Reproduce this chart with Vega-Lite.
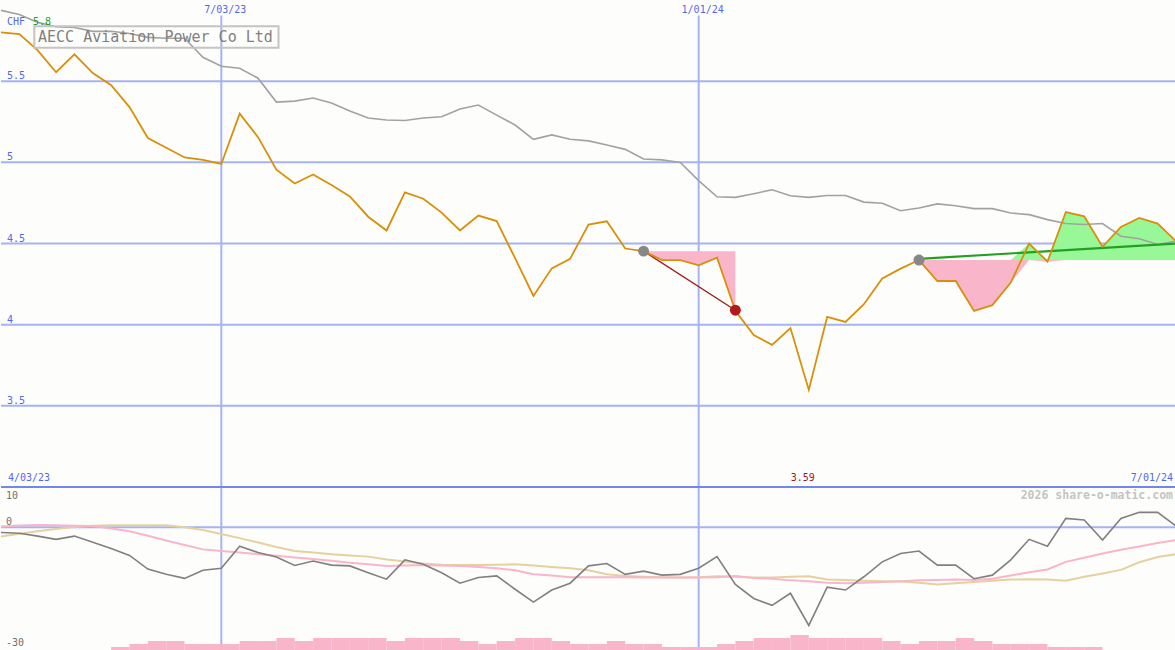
{
  "$schema": "https://vega.github.io/schema/vega-lite/v6.json",
  "padding": 0,
  "spacing": 0,
  "bounds": "flush",
  "background": "#fdfefb",
  "config": {
    "view": {"stroke": null},
    "text": {"font": "DejaVu Sans Mono"}
  },
  "datasets": {
    "main": [
      {"d": "2023-04-10", "p": 5.80, "ma": 5.936, "o": -1.3, "m1": 0.17, "m2": -2.3},
      {"d": "2023-04-17", "p": 5.79, "ma": 5.911, "o": -1.5, "m1": 0.45, "m2": -1.6},
      {"d": "2023-04-24", "p": 5.69, "ma": 5.862, "o": -2.2, "m1": 0.55, "m2": -1.0},
      {"d": "2023-05-01", "p": 5.555, "ma": 5.835, "o": -3.0, "m1": 0.47, "m2": -0.45},
      {"d": "2023-05-08", "p": 5.665, "ma": 5.831, "o": -2.2, "m1": 0.4, "m2": 0.07},
      {"d": "2023-05-15", "p": 5.55, "ma": 5.807, "o": -3.7, "m1": 0.32, "m2": 0.37},
      {"d": "2023-05-22", "p": 5.475, "ma": 5.807, "o": -5.3, "m1": -0.3, "m2": 0.5},
      {"d": "2023-05-29", "p": 5.34, "ma": 5.794, "o": -7.0, "m1": -1.0, "m2": 0.5},
      {"d": "2023-06-05", "p": 5.15, "ma": 5.770, "o": -10.4, "m1": -2.1, "m2": 0.5},
      {"d": "2023-06-12", "p": 5.09, "ma": 5.764, "o": -11.7, "m1": -3.3, "m2": 0.5},
      {"d": "2023-06-19", "p": 5.03, "ma": 5.764, "o": -12.7, "m1": -4.4, "m2": 0.02},
      {"d": "2023-06-26", "p": 5.015, "ma": 5.647, "o": -10.7, "m1": -5.5, "m2": -0.7},
      {"d": "2023-07-03", "p": 4.99, "ma": 5.592, "o": -10.2, "m1": -5.9, "m2": -1.7},
      {"d": "2023-07-10", "p": 5.30, "ma": 5.580, "o": -4.7, "m1": -6.3, "m2": -2.7},
      {"d": "2023-07-17", "p": 5.155, "ma": 5.518, "o": -6.3, "m1": -6.7, "m2": -3.8},
      {"d": "2023-07-24", "p": 4.955, "ma": 5.371, "o": -7.4, "m1": -7.1, "m2": -4.9},
      {"d": "2023-07-31", "p": 4.87, "ma": 5.377, "o": -9.5, "m1": -7.5, "m2": -5.9},
      {"d": "2023-08-07", "p": 4.925, "ma": 5.396, "o": -8.4, "m1": -7.9, "m2": -6.3},
      {"d": "2023-08-14", "p": 4.86, "ma": 5.365, "o": -9.4, "m1": -8.3, "m2": -6.7},
      {"d": "2023-08-21", "p": 4.79, "ma": 5.316, "o": -9.6, "m1": -8.8, "m2": -7.0},
      {"d": "2023-08-28", "p": 4.665, "ma": 5.273, "o": -11.3, "m1": -9.2, "m2": -7.3},
      {"d": "2023-09-04", "p": 4.58, "ma": 5.261, "o": -12.9, "m1": -9.6, "m2": -8.0},
      {"d": "2023-09-11", "p": 4.815, "ma": 5.258, "o": -8.1, "m1": -9.5, "m2": -8.5},
      {"d": "2023-09-18", "p": 4.776, "ma": 5.273, "o": -9.2, "m1": -9.4, "m2": -9.0},
      {"d": "2023-09-25", "p": 4.69, "ma": 5.281, "o": -11.3, "m1": -9.5, "m2": -9.3},
      {"d": "2023-10-02", "p": 4.58, "ma": 5.328, "o": -13.9, "m1": -9.6, "m2": -9.4},
      {"d": "2023-10-09", "p": 4.672, "ma": 5.353, "o": -12.5, "m1": -9.9, "m2": -9.4},
      {"d": "2023-10-16", "p": 4.638, "ma": 5.291, "o": -12.1, "m1": -10.2, "m2": -9.3},
      {"d": "2023-10-23", "p": 4.41, "ma": 5.230, "o": -15.4, "m1": -10.7, "m2": -9.2},
      {"d": "2023-10-30", "p": 4.177, "ma": 5.142, "o": -18.6, "m1": -11.7, "m2": -9.5},
      {"d": "2023-11-06", "p": 4.347, "ma": 5.169, "o": -15.6, "m1": -12.0, "m2": -9.9},
      {"d": "2023-11-13", "p": 4.406, "ma": 5.142, "o": -13.9, "m1": -12.4, "m2": -10.2},
      {"d": "2023-11-20", "p": 4.617, "ma": 5.132, "o": -9.6, "m1": -12.4, "m2": -10.7},
      {"d": "2023-11-27", "p": 4.637, "ma": 5.107, "o": -9.0, "m1": -12.4, "m2": -11.7},
      {"d": "2023-12-04", "p": 4.469, "ma": 5.080, "o": -11.7, "m1": -12.4, "m2": -12.1},
      {"d": "2023-12-11", "p": 4.453, "ma": 5.021, "o": -10.9, "m1": -12.5, "m2": -12.3},
      {"d": "2023-12-18", "p": 4.398, "ma": 5.015, "o": -11.9, "m1": -12.5, "m2": -12.4},
      {"d": "2023-12-25", "p": 4.398, "ma": 4.999, "o": -11.7, "m1": -12.5, "m2": -12.5},
      {"d": "2024-01-01", "p": 4.365, "ma": 4.887, "o": -10.2, "m1": -12.5, "m2": -12.4},
      {"d": "2024-01-08", "p": 4.412, "ma": 4.788, "o": -7.3, "m1": -12.4, "m2": -12.2},
      {"d": "2024-01-15", "p": 4.085, "ma": 4.784, "o": -14.2, "m1": -12.1, "m2": -12.3},
      {"d": "2024-01-22", "p": 3.936, "ma": 4.807, "o": -17.7, "m1": -12.6, "m2": -12.5},
      {"d": "2024-01-29", "p": 3.876, "ma": 4.831, "o": -19.4, "m1": -12.8, "m2": -12.5},
      {"d": "2024-02-05", "p": 3.979, "ma": 4.794, "o": -16.4, "m1": -13.2, "m2": -12.3},
      {"d": "2024-02-12", "p": 3.598, "ma": 4.784, "o": -24.4, "m1": -13.4, "m2": -12.2},
      {"d": "2024-02-19", "p": 4.048, "ma": 4.796, "o": -14.9, "m1": -13.8, "m2": -13.0},
      {"d": "2024-02-26", "p": 4.017, "ma": 4.796, "o": -15.6, "m1": -13.9, "m2": -13.1},
      {"d": "2024-03-04", "p": 4.126, "ma": 4.755, "o": -12.3, "m1": -13.8, "m2": -13.3},
      {"d": "2024-03-11", "p": 4.285, "ma": 4.748, "o": -8.6, "m1": -13.6, "m2": -13.4},
      {"d": "2024-03-18", "p": 4.345, "ma": 4.702, "o": -6.5, "m1": -13.4, "m2": -13.5},
      {"d": "2024-03-25", "p": 4.398, "ma": 4.719, "o": -5.9, "m1": -13.2, "m2": -13.8},
      {"d": "2024-04-01", "p": 4.269, "ma": 4.744, "o": -9.4, "m1": -13.1, "m2": -14.2},
      {"d": "2024-04-08", "p": 4.269, "ma": 4.733, "o": -9.4, "m1": -13.0, "m2": -13.9},
      {"d": "2024-04-15", "p": 4.085, "ma": 4.715, "o": -12.8, "m1": -13.1, "m2": -13.6},
      {"d": "2024-04-22", "p": 4.12, "ma": 4.715, "o": -11.9, "m1": -12.8, "m2": -13.3},
      {"d": "2024-04-29", "p": 4.259, "ma": 4.688, "o": -8.1, "m1": -12.0, "m2": -13.0},
      {"d": "2024-05-06", "p": 4.50, "ma": 4.678, "o": -3.0, "m1": -11.2, "m2": -12.9},
      {"d": "2024-05-13", "p": 4.388, "ma": 4.647, "o": -4.7, "m1": -10.5, "m2": -13.0},
      {"d": "2024-05-20", "p": 4.694, "ma": 4.623, "o": 2.2, "m1": -8.6, "m2": -13.3},
      {"d": "2024-05-27", "p": 4.667, "ma": 4.617, "o": 1.8, "m1": -7.6, "m2": -12.3},
      {"d": "2024-06-03", "p": 4.48, "ma": 4.623, "o": -3.2, "m1": -6.5, "m2": -11.5},
      {"d": "2024-06-10", "p": 4.602, "ma": 4.545, "o": 2.2, "m1": -5.6, "m2": -10.6},
      {"d": "2024-06-17", "p": 4.658, "ma": 4.529, "o": 3.7, "m1": -4.8, "m2": -8.7},
      {"d": "2024-06-24", "p": 4.623, "ma": 4.494, "o": 3.7, "m1": -3.9, "m2": -7.4},
      {"d": "2024-07-01", "p": 4.514, "ma": 4.515, "o": 0.3, "m1": -3.2, "m2": -6.7}
    ],
    "vol": [
      {"d": "2023-05-22", "e": "2023-05-29", "v": 1},
      {"d": "2023-05-29", "e": "2023-06-05", "v": 2},
      {"d": "2023-06-05", "e": "2023-06-12", "v": 3},
      {"d": "2023-06-12", "e": "2023-06-19", "v": 3},
      {"d": "2023-06-19", "e": "2023-06-26", "v": 2},
      {"d": "2023-06-26", "e": "2023-07-03", "v": 2},
      {"d": "2023-07-03", "e": "2023-07-10", "v": 2},
      {"d": "2023-07-10", "e": "2023-07-17", "v": 3},
      {"d": "2023-07-17", "e": "2023-07-24", "v": 3},
      {"d": "2023-07-24", "e": "2023-07-31", "v": 4},
      {"d": "2023-07-31", "e": "2023-08-07", "v": 3},
      {"d": "2023-08-07", "e": "2023-08-14", "v": 4},
      {"d": "2023-08-14", "e": "2023-08-21", "v": 4},
      {"d": "2023-08-21", "e": "2023-08-28", "v": 4},
      {"d": "2023-08-28", "e": "2023-09-04", "v": 4},
      {"d": "2023-09-04", "e": "2023-09-11", "v": 3},
      {"d": "2023-09-11", "e": "2023-09-18", "v": 4},
      {"d": "2023-09-18", "e": "2023-09-25", "v": 4},
      {"d": "2023-09-25", "e": "2023-10-02", "v": 4},
      {"d": "2023-10-02", "e": "2023-10-09", "v": 3},
      {"d": "2023-10-09", "e": "2023-10-16", "v": 2},
      {"d": "2023-10-16", "e": "2023-10-23", "v": 3},
      {"d": "2023-10-23", "e": "2023-10-30", "v": 4},
      {"d": "2023-10-30", "e": "2023-11-06", "v": 4},
      {"d": "2023-11-06", "e": "2023-11-13", "v": 3},
      {"d": "2023-11-13", "e": "2023-11-20", "v": 2},
      {"d": "2023-11-20", "e": "2023-11-27", "v": 2},
      {"d": "2023-11-27", "e": "2023-12-04", "v": 3},
      {"d": "2023-12-04", "e": "2023-12-11", "v": 2},
      {"d": "2023-12-11", "e": "2023-12-18", "v": 2},
      {"d": "2023-12-18", "e": "2023-12-25", "v": 1},
      {"d": "2023-12-25", "e": "2024-01-01", "v": 1},
      {"d": "2024-01-01", "e": "2024-01-08", "v": 1},
      {"d": "2024-01-08", "e": "2024-01-15", "v": 2},
      {"d": "2024-01-15", "e": "2024-01-22", "v": 3},
      {"d": "2024-01-22", "e": "2024-01-29", "v": 4},
      {"d": "2024-01-29", "e": "2024-02-05", "v": 4},
      {"d": "2024-02-05", "e": "2024-02-12", "v": 5},
      {"d": "2024-02-12", "e": "2024-02-19", "v": 4},
      {"d": "2024-02-19", "e": "2024-02-26", "v": 4},
      {"d": "2024-02-26", "e": "2024-03-04", "v": 4},
      {"d": "2024-03-04", "e": "2024-03-11", "v": 4},
      {"d": "2024-03-11", "e": "2024-03-18", "v": 3},
      {"d": "2024-03-18", "e": "2024-03-25", "v": 2},
      {"d": "2024-03-25", "e": "2024-04-01", "v": 3},
      {"d": "2024-04-01", "e": "2024-04-08", "v": 3},
      {"d": "2024-04-08", "e": "2024-04-15", "v": 4},
      {"d": "2024-04-15", "e": "2024-04-22", "v": 3},
      {"d": "2024-04-22", "e": "2024-04-29", "v": 2},
      {"d": "2024-04-29", "e": "2024-05-06", "v": 2},
      {"d": "2024-05-06", "e": "2024-05-13", "v": 2},
      {"d": "2024-05-13", "e": "2024-05-20", "v": 1},
      {"d": "2024-05-20", "e": "2024-05-27", "v": 1},
      {"d": "2024-05-27", "e": "2024-06-03", "v": 1}
    ],
    "sig1": [
      {"d": "2023-12-11", "p": 4.453},
      {"d": "2023-12-18", "p": 4.398},
      {"d": "2023-12-25", "p": 4.398},
      {"d": "2024-01-01", "p": 4.365},
      {"d": "2024-01-08", "p": 4.412},
      {"d": "2024-01-15", "p": 4.085}
    ],
    "sig2": [
      {"d": "2024-03-25", "hi": 4.398, "lo": 4.398},
      {"d": "2024-04-01", "hi": 4.398, "lo": 4.269},
      {"d": "2024-04-08", "hi": 4.398, "lo": 4.269},
      {"d": "2024-04-15", "hi": 4.398, "lo": 4.085},
      {"d": "2024-04-22", "hi": 4.398, "lo": 4.12},
      {"d": "2024-04-29", "hi": 4.398, "lo": 4.259},
      {"d": "2024-05-06", "hi": 4.50, "lo": 4.398},
      {"d": "2024-05-13", "hi": 4.398, "lo": 4.388},
      {"d": "2024-05-20", "hi": 4.694, "lo": 4.398},
      {"d": "2024-05-27", "hi": 4.667, "lo": 4.398},
      {"d": "2024-06-03", "hi": 4.48, "lo": 4.398},
      {"d": "2024-06-10", "hi": 4.602, "lo": 4.398},
      {"d": "2024-06-17", "hi": 4.658, "lo": 4.398},
      {"d": "2024-06-24", "hi": 4.623, "lo": 4.398},
      {"d": "2024-07-01", "hi": 4.514, "lo": 4.398}
    ],
    "redline": [
      {"d": "2023-12-11", "p": 4.453},
      {"d": "2024-01-15", "p": 4.089}
    ],
    "trend": [
      {"d": "2024-03-25", "p": 4.405},
      {"d": "2024-07-01", "p": 4.50}
    ],
    "dots": [
      {"d": "2023-12-11", "p": 4.453, "k": "entry"},
      {"d": "2024-01-15", "p": 4.089, "k": "exit"},
      {"d": "2024-03-25", "p": 4.398, "k": "entry"}
    ],
    "vlines": [
      {"d": "2023-07-03", "t": "7/03/23"},
      {"d": "2024-01-01", "t": "1/01/24"}
    ],
    "hgrid": [
      {"v": 3.5, "t": "3.5"},
      {"v": 4, "t": "4"},
      {"v": 4.5, "t": "4.5"},
      {"v": 5, "t": "5"},
      {"v": 5.5, "t": "5.5"}
    ],
    "oscticks": [
      {"v": 0, "t": "0"},
      {"v": -30, "t": "-30"}
    ],
    "minlabel": [
      {"d": "2024-02-12", "t": "3.59"}
    ]
  },
  "vconcat": [
    {
      "width": 1175,
      "height": 487,
      "layer": [
        {
          "data": {"name": "hgrid"},
          "mark": {"type": "rule", "color": "#a6b3f2", "strokeWidth": 2},
          "encoding": {
            "y": {"field": "v", "type": "quantitative", "axis": null, "scale": {"domain": [3, 6], "zero": false, "nice": false}}
          }
        },
        {
          "data": {"name": "vlines"},
          "mark": {"type": "rule", "color": "#a6b3f2", "strokeWidth": 2},
          "encoding": {
            "x": {"field": "d", "type": "temporal", "axis": null,
                  "scale": {"type": "utc", "domain": [{"year": 2023, "month": 4, "date": 10, "utc": true}, {"year": 2024, "month": 7, "date": 1, "utc": true}]}},
            "y": {"datum": 5.905, "axis": null},
            "y2": {"datum": 3.0}
          }
        },
        {
          "data": {"name": "hgrid"},
          "mark": {"type": "text", "color": "#5468ee", "fontSize": 10, "align": "left", "baseline": "bottom", "dx": 6},
          "encoding": {
            "x": {"datum": {"year": 2023, "month": 4, "date": 10, "utc": true}, "axis": null},
            "y": {"field": "v", "type": "quantitative", "axis": null},
            "text": {"field": "t"}
          }
        },
        {
          "data": {"name": "vlines"},
          "mark": {"type": "text", "color": "#5468ee", "fontSize": 10, "align": "center", "baseline": "alphabetic", "dx": 4},
          "encoding": {
            "x": {"field": "d", "type": "temporal", "axis": null},
            "y": {"datum": 5.917, "axis": null},
            "text": {"field": "t"}
          }
        },
        {
          "data": {"name": "sig1"},
          "mark": {"type": "area", "color": "#f9b5ca", "opacity": 1},
          "encoding": {
            "x": {"field": "d", "type": "temporal", "axis": null},
            "y": {"field": "p", "type": "quantitative", "axis": null},
            "y2": {"datum": 4.453}
          }
        },
        {
          "data": {"name": "sig2"},
          "mark": {"type": "area", "color": "#98f898", "opacity": 1},
          "encoding": {
            "x": {"field": "d", "type": "temporal", "axis": null},
            "y": {"field": "hi", "type": "quantitative", "axis": null},
            "y2": {"datum": 4.398}
          }
        },
        {
          "data": {"name": "sig2"},
          "mark": {"type": "area", "color": "#f9b5ca", "opacity": 1},
          "encoding": {
            "x": {"field": "d", "type": "temporal", "axis": null},
            "y": {"field": "lo", "type": "quantitative", "axis": null},
            "y2": {"datum": 4.398}
          }
        },
        {
          "data": {"name": "main"},
          "mark": {"type": "line", "color": "#a2a2a2", "strokeWidth": 1.6, "clip": true},
          "encoding": {
            "x": {"field": "d", "type": "temporal", "axis": null},
            "y": {"field": "ma", "type": "quantitative", "axis": null}
          }
        },
        {
          "data": {"name": "redline"},
          "mark": {"type": "line", "color": "#a01c1c", "strokeWidth": 1.4},
          "encoding": {
            "x": {"field": "d", "type": "temporal", "axis": null},
            "y": {"field": "p", "type": "quantitative", "axis": null}
          }
        },
        {
          "data": {"name": "trend"},
          "mark": {"type": "line", "color": "#22a022", "strokeWidth": 2.2},
          "encoding": {
            "x": {"field": "d", "type": "temporal", "axis": null},
            "y": {"field": "p", "type": "quantitative", "axis": null}
          }
        },
        {
          "data": {"name": "main"},
          "mark": {"type": "line", "color": "#d98f0a", "strokeWidth": 1.8, "clip": true},
          "encoding": {
            "x": {"field": "d", "type": "temporal", "axis": null},
            "y": {"field": "p", "type": "quantitative", "axis": null}
          }
        },
        {
          "data": {"name": "dots"},
          "mark": {"type": "point", "filled": true, "opacity": 1, "size": 120},
          "encoding": {
            "x": {"field": "d", "type": "temporal", "axis": null},
            "y": {"field": "p", "type": "quantitative", "axis": null},
            "color": {"field": "k", "type": "nominal", "legend": null,
                      "scale": {"domain": ["entry", "exit"], "range": ["#878787", "#b01a1a"]}}
          }
        },
        {
          "data": {"name": "minlabel"},
          "mark": {"type": "text", "color": "#a01818", "fontSize": 10, "align": "center", "baseline": "alphabetic", "dx": -6},
          "encoding": {
            "x": {"field": "d", "type": "temporal", "axis": null},
            "y": {"datum": 3.034, "axis": null},
            "text": {"field": "t"}
          }
        },
        {
          "data": {"values": [{"t": "4/03/23"}]},
          "mark": {"type": "text", "color": "#5468ee", "fontSize": 10, "align": "left", "baseline": "alphabetic", "dx": 7},
          "encoding": {
            "x": {"datum": {"year": 2023, "month": 4, "date": 10, "utc": true}, "axis": null},
            "y": {"datum": 3.034, "axis": null},
            "text": {"field": "t"}
          }
        },
        {
          "data": {"values": [{"t": "7/01/24"}]},
          "mark": {"type": "text", "color": "#5468ee", "fontSize": 10, "align": "right", "baseline": "alphabetic", "dx": -3},
          "encoding": {
            "x": {"datum": {"year": 2024, "month": 7, "date": 1, "utc": true}, "axis": null},
            "y": {"datum": 3.034, "axis": null},
            "text": {"field": "t"}
          }
        },
        {
          "data": {"values": [{"t": "CHF"}]},
          "mark": {"type": "text", "color": "#5468ee", "fontSize": 10, "align": "left", "baseline": "alphabetic", "dx": 6},
          "encoding": {
            "x": {"datum": {"year": 2023, "month": 4, "date": 10, "utc": true}, "axis": null},
            "y": {"datum": 5.844, "axis": null},
            "text": {"field": "t"}
          }
        },
        {
          "data": {"values": [{"t": "5.8"}]},
          "mark": {"type": "text", "color": "#1e9e1e", "fontSize": 10, "align": "left", "baseline": "alphabetic", "dx": 32},
          "encoding": {
            "x": {"datum": {"year": 2023, "month": 4, "date": 10, "utc": true}, "axis": null},
            "y": {"datum": 5.844, "axis": null},
            "text": {"field": "t"}
          }
        },
        {
          "data": {"values": [{"t": "AECC Aviation Power Co Ltd"}]},
          "mark": {"type": "rect", "filled": false, "color": "#c4c4c4", "strokeWidth": 2},
          "encoding": {
            "x": {"datum": {"year": 2023, "month": 4, "date": 22, "hours": 16, "minutes": 43, "utc": true}, "axis": null},
            "x2": {"datum": {"year": 2023, "month": 7, "date": 24, "hours": 19, "minutes": 26, "utc": true}},
            "y": {"datum": 5.8387, "axis": null},
            "y2": {"datum": 5.7055}
          }
        },
        {
          "data": {"values": [{"t": "AECC Aviation Power Co Ltd"}]},
          "mark": {"type": "text", "color": "#808080", "fontSize": 15, "align": "left", "baseline": "alphabetic", "dx": 37},
          "encoding": {
            "x": {"datum": {"year": 2023, "month": 4, "date": 10, "utc": true}, "axis": null},
            "y": {"datum": 5.742, "axis": null},
            "text": {"field": "t"}
          }
        }
      ]
    },
    {
      "width": 1175,
      "height": 163,
      "resolve": {"scale": {"y": "independent"}},
      "layer": [
        {
          "data": {"name": "vlines"},
          "mark": {"type": "rule", "color": "#a6b3f2", "strokeWidth": 2},
          "encoding": {
            "x": {"field": "d", "type": "temporal", "axis": null,
                  "scale": {"type": "utc", "domain": [{"year": 2023, "month": 4, "date": 10, "utc": true}, {"year": 2024, "month": 7, "date": 1, "utc": true}]}}
          }
        },
        {
          "data": {"name": "vol"},
          "mark": {"type": "rect", "color": "#f9b5ca"},
          "encoding": {
            "x": {"field": "d", "type": "temporal", "axis": null},
            "x2": {"field": "e"},
            "y": {"field": "v", "type": "quantitative", "axis": null, "scale": {"domain": [0, 54.33], "nice": false, "zero": true}},
            "y2": {"datum": 0}
          }
        },
        {
          "layer": [
            {
              "data": {"values": [{"z": 0}]},
              "mark": {"type": "rule", "color": "#a6b3f2", "strokeWidth": 2},
              "encoding": {
                "y": {"field": "z", "type": "quantitative", "axis": null, "scale": {"domain": [-30.5, 10], "nice": false, "zero": false}}
              }
            },
            {
              "data": {"values": [{"z": 10}]},
              "mark": {"type": "rule", "color": "#7586ea", "strokeWidth": 2},
              "encoding": {
                "y": {"field": "z", "type": "quantitative", "axis": null}
              }
            },
            {
              "data": {"name": "main"},
              "mark": {"type": "line", "color": "#e5d1a0", "strokeWidth": 2, "clip": true},
              "encoding": {
                "x": {"field": "d", "type": "temporal", "axis": null},
                "y": {"field": "m2", "type": "quantitative", "axis": null}
              }
            },
            {
              "data": {"name": "main"},
              "mark": {"type": "line", "color": "#f9b5ca", "strokeWidth": 2, "clip": true},
              "encoding": {
                "x": {"field": "d", "type": "temporal", "axis": null},
                "y": {"field": "m1", "type": "quantitative", "axis": null}
              }
            },
            {
              "data": {"name": "main"},
              "mark": {"type": "line", "color": "#808080", "strokeWidth": 1.6, "clip": true},
              "encoding": {
                "x": {"field": "d", "type": "temporal", "axis": null},
                "y": {"field": "o", "type": "quantitative", "axis": null}
              }
            },
            {
              "data": {"name": "oscticks"},
              "mark": {"type": "text", "color": "#707070", "fontSize": 10, "align": "left", "baseline": "bottom", "dx": 5},
              "encoding": {
                "x": {"datum": {"year": 2023, "month": 4, "date": 10, "utc": true}, "axis": null},
                "y": {"field": "v", "type": "quantitative", "axis": null},
                "text": {"field": "t"}
              }
            },
            {
              "data": {"values": [{"v": 10, "t": "10"}]},
              "mark": {"type": "text", "color": "#707070", "fontSize": 10, "align": "left", "baseline": "bottom", "dx": 5, "dy": 14},
              "encoding": {
                "x": {"datum": {"year": 2023, "month": 4, "date": 10, "utc": true}, "axis": null},
                "y": {"field": "v", "type": "quantitative", "axis": null},
                "text": {"field": "t"}
              }
            },
            {
              "data": {"values": [{"t": "2026 share-o-matic.com"}]},
              "mark": {"type": "text", "color": "#c4c4c4", "fontSize": 11.5, "fontWeight": "bold", "align": "right", "baseline": "alphabetic", "dx": -3},
              "encoding": {
                "x": {"datum": {"year": 2024, "month": 7, "date": 1, "utc": true}, "axis": null},
                "y": {"datum": 6.9, "axis": null},
                "text": {"field": "t"}
              }
            }
          ]
        }
      ]
    }
  ]
}
